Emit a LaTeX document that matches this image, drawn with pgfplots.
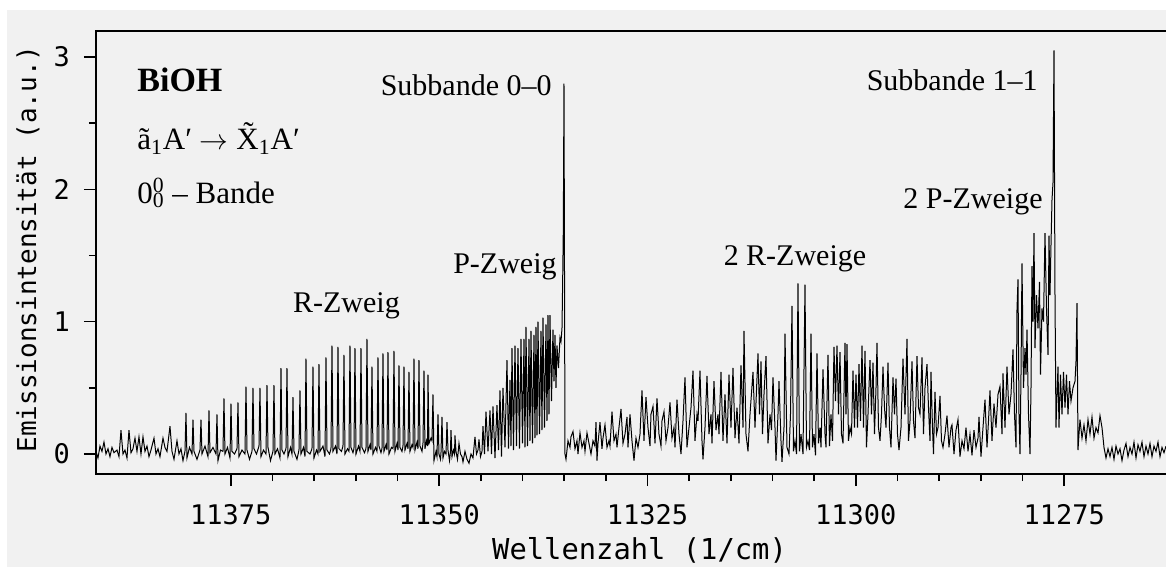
\documentclass[border=0pt]{standalone}
\usepackage{fontspec}
\setmainfont{Liberation Serif}
\newfontfamily\monofont{DejaVu Sans Mono}
\usepackage{pgfplots}
\pgfplotsset{compat=1.18}
\usepackage{pgfplotstable}
\definecolor{bg}{HTML}{F1F1F1}

% emission spectrum (wavenumber in 1/cm, intensity in a.u.)
\pgfplotstableread{
x y
11391.18 0.02
11390.94 -0.03
11390.70 0.06
11390.46 0.02
11390.22 0.09
11389.98 0.00
11389.74 0.04
11389.50 -0.02
11389.26 0.05
11389.02 0.01
11388.66 0.03
11388.42 -0.02
11388.18 0.18
11387.94 0.00
11387.70 0.03
11387.46 -0.03
11387.22 0.18
11386.98 0.01
11386.74 0.04
11386.50 0.12
11386.26 0.02
11386.02 0.13
11385.78 0.00
11385.54 0.13
11385.30 0.02
11385.06 0.06
11384.82 -0.02
11384.58 0.03
11384.22 0.12
11383.98 0.00
11383.74 0.04
11383.50 -0.02
11383.14 0.12
11382.90 0.05
11382.66 0.02
11382.30 0.21
11382.06 0.02
11381.82 -0.04
11381.46 0.10
11381.22 0.00
11380.98 0.04
11380.74 -0.05
11380.50 0.02
11380.38 0.31
11380.26 -0.03
11379.96 0.05
11379.66 0.00
11379.54 0.26
11379.42 0.02
11379.06 -0.04
11378.70 0.03
11378.58 0.26
11378.46 0.00
11378.10 0.06
11377.74 -0.02
11377.62 0.33
11377.50 0.01
11377.14 0.05
11376.78 0.00
11376.66 0.30
11376.54 -0.05
11376.24 0.03
11375.94 0.02
11375.82 0.42
11375.70 0.00
11375.40 0.05
11375.10 -0.03
11374.98 0.38
11374.86 0.02
11374.56 0.00
11374.26 0.04
11374.14 0.39
11374.02 -0.02
11373.66 0.03
11373.30 0.00
11373.18 0.51
11373.06 0.03
11372.76 -0.04
11372.46 0.02
11372.34 0.50
11372.22 0.04
11371.92 0.00
11371.62 0.06
11371.50 0.50
11371.38 -0.02
11371.08 0.03
11370.78 0.00
11370.66 0.52
11370.54 0.05
11370.24 -0.05
11369.94 0.02
11369.82 0.52
11369.70 0.00
11369.40 0.04
11369.10 -0.03
11368.98 0.65
11368.86 0.03
11368.62 0.00
11368.38 0.04
11368.26 0.65
11368.14 -0.02
11367.84 0.05
11367.66 0.00
11367.54 0.43
11367.42 0.02
11367.06 -0.04
11366.82 0.03
11366.70 0.48
11366.58 0.00
11366.28 0.05
11366.10 -0.02
11365.98 0.72
11365.86 0.02
11365.50 0.00
11365.26 0.04
11365.14 0.66
11365.02 -0.03
11364.72 0.03
11364.54 0.00
11364.42 0.68
11364.30 0.02
11363.94 0.06
11363.70 -0.02
11363.58 0.73
11363.46 0.03
11363.16 0.00
11362.98 0.04
11362.86 0.82
11362.74 0.02
11362.44 0.06
11362.26 0.00
11362.14 0.81
11362.02 0.04
11361.72 0.02
11361.54 0.06
11361.42 0.75
11361.30 0.00
11361.00 0.04
11360.82 0.02
11360.70 0.82
11360.58 0.05
11360.34 0.01
11360.22 0.04
11360.10 0.80
11359.98 0.00
11359.68 0.06
11359.50 0.02
11359.38 0.80
11359.26 0.05
11358.96 0.01
11358.78 0.04
11358.66 0.87
11358.54 0.02
11358.30 0.07
11358.18 0.03
11358.06 0.66
11357.94 0.00
11357.64 0.05
11357.46 0.02
11357.34 0.73
11357.22 0.06
11356.98 0.01
11356.86 0.04
11356.74 0.76
11356.62 0.02
11356.38 0.07
11356.26 0.03
11356.14 0.77
11356.02 0.00
11355.72 0.05
11355.54 0.04
11355.42 0.78
11355.30 0.02
11355.06 0.08
11354.94 0.03
11354.82 0.67
11354.70 0.05
11354.46 0.02
11354.34 0.06
11354.22 0.66
11354.10 0.03
11353.86 0.08
11353.74 0.04
11353.62 0.62
11353.50 0.02
11353.26 0.07
11353.14 0.05
11353.02 0.72
11352.90 0.03
11352.66 0.09
11352.54 0.04
11352.42 0.71
11352.30 0.06
11352.06 0.02
11351.94 0.08
11351.82 0.63
11351.70 0.04
11351.52 0.10
11351.40 0.06
11351.34 0.60
11351.22 0.08
11350.98 0.12
11350.86 0.10
11350.74 0.45
11350.62 -0.05
11350.38 0.02
11350.26 -0.02
11350.14 0.30
11350.02 0.00
11349.84 -0.04
11349.78 0.01
11349.66 0.28
11349.54 -0.03
11349.36 0.02
11349.18 0.00
11349.06 0.24
11348.94 0.03
11348.76 -0.05
11348.64 0.02
11348.58 0.18
11348.46 -0.02
11348.28 0.03
11348.16 0.00
11348.10 0.14
11347.98 0.02
11347.80 -0.04
11347.62 0.08
11347.44 0.00
11347.26 -0.02
11347.14 -0.06
11346.90 0.02
11346.66 -0.04
11346.42 -0.07
11346.18 0.00
11345.94 -0.03
11345.70 0.13
11345.52 0.00
11345.34 0.03
11345.22 0.11
11345.04 -0.02
11344.86 0.02
11344.74 0.21
11344.56 0.00
11344.38 0.32
11344.14 0.02
11343.90 0.33
11343.72 0.00
11343.54 0.36
11343.30 -0.03
11343.06 0.37
11342.88 0.03
11342.70 0.48
11342.52 -0.02
11342.34 0.50
11342.10 0.05
11341.86 0.71
11341.68 0.04
11341.50 0.56
11341.38 0.06
11341.26 0.80
11341.08 0.03
11340.90 0.82
11340.72 0.06
11340.54 0.80
11340.36 0.04
11340.18 0.87
11340.00 0.08
11339.82 0.87
11339.70 0.05
11339.58 0.96
11339.40 0.06
11339.22 0.87
11339.10 0.10
11338.98 0.93
11338.80 0.08
11338.62 0.90
11338.50 0.12
11338.38 0.96
11338.26 0.14
11338.14 1.00
11337.96 0.15
11337.78 0.93
11337.66 0.18
11337.54 1.03
11337.36 0.20
11337.18 0.98
11337.06 0.25
11336.94 1.05
11336.82 0.30
11336.70 1.05
11336.52 0.40
11336.34 0.94
11336.22 0.55
11336.10 0.90
11335.98 0.50
11335.86 0.82
11335.68 0.65
11335.50 0.88
11335.38 0.85
11335.26 0.95
11335.18 1.30
11335.10 1.70
11335.02 2.80
11334.90 0.00
11334.78 -0.04
11334.54 0.10
11334.30 0.05
11334.18 0.13
11333.94 0.17
11333.70 0.04
11333.46 0.10
11333.34 0.00
11333.10 0.16
11332.86 0.05
11332.62 0.10
11332.50 0.02
11332.26 0.16
11332.02 0.08
11331.78 0.00
11331.54 0.10
11331.30 0.06
11331.18 0.24
11331.06 -0.05
11330.94 0.08
11330.70 0.24
11330.46 0.04
11330.34 0.12
11330.10 0.22
11329.86 0.05
11329.62 0.10
11329.50 0.06
11329.26 0.32
11329.02 0.10
11328.78 0.15
11328.66 0.05
11328.42 0.20
11328.18 0.34
11327.94 0.08
11327.70 0.15
11327.46 0.28
11327.34 0.05
11327.10 0.30
11326.86 0.10
11326.62 -0.05
11326.38 0.12
11326.14 0.05
11325.90 0.15
11325.66 0.48
11325.42 0.10
11325.18 0.43
11324.94 0.20
11324.70 0.06
11324.58 0.30
11324.34 0.36
11324.10 0.08
11323.86 0.42
11323.62 0.15
11323.38 0.06
11323.26 0.25
11323.02 0.32
11322.78 0.10
11322.54 0.20
11322.30 0.39
11322.06 0.12
11321.82 0.20
11321.70 0.05
11321.46 0.41
11321.22 0.15
11320.98 0.00
11320.74 0.25
11320.50 0.58
11320.26 0.05
11320.02 0.20
11319.78 0.35
11319.54 0.63
11319.30 0.10
11319.06 0.30
11318.94 0.25
11318.70 0.63
11318.46 0.10
11318.34 -0.04
11318.10 0.20
11317.86 0.59
11317.62 0.15
11317.38 0.30
11317.26 0.08
11317.02 0.55
11316.78 0.18
11316.54 0.30
11316.42 0.15
11316.18 0.62
11315.94 0.10
11315.70 0.45
11315.46 0.08
11315.22 0.60
11314.98 0.20
11314.74 0.65
11314.50 0.12
11314.26 0.35
11314.02 0.08
11313.78 0.67
11313.54 0.20
11313.42 0.93
11313.18 0.15
11312.94 0.02
11312.70 0.30
11312.34 0.62
11312.10 0.20
11311.74 0.76
11311.56 0.30
11311.38 0.70
11311.20 0.15
11311.02 0.45
11310.78 0.74
11310.54 0.08
11310.30 0.30
11310.12 0.18
11309.94 0.58
11309.70 0.20
11309.58 -0.05
11309.34 0.30
11309.22 0.55
11308.98 0.10
11308.86 -0.06
11308.62 0.20
11308.50 0.91
11308.26 0.05
11308.02 0.00
11307.84 0.30
11307.66 1.12
11307.48 0.02
11307.30 0.10
11307.12 0.00
11306.94 1.29
11306.76 0.02
11306.58 0.15
11306.34 0.00
11306.10 1.28
11305.92 0.05
11305.74 0.10
11305.56 0.03
11305.38 0.91
11305.20 0.05
11305.02 0.15
11304.84 -0.01
11304.66 0.76
11304.48 0.08
11304.30 0.20
11304.18 0.05
11303.94 0.64
11303.70 0.15
11303.58 0.05
11303.34 0.75
11303.16 0.06
11302.98 0.30
11302.80 0.10
11302.62 0.81
11302.44 0.40
11302.26 0.82
11302.08 0.30
11301.90 0.77
11301.72 0.15
11301.54 0.08
11301.30 0.84
11301.18 0.30
11301.06 0.83
11300.88 0.10
11300.70 0.20
11300.52 0.15
11300.34 0.63
11300.16 0.20
11299.98 0.60
11299.80 0.20
11299.62 0.68
11299.44 0.25
11299.26 0.82
11299.08 0.20
11298.90 0.78
11298.72 0.05
11298.54 0.30
11298.30 0.71
11298.12 0.30
11297.94 0.69
11297.76 0.15
11297.58 0.50
11297.46 0.84
11297.28 0.20
11297.10 0.10
11296.92 0.30
11296.74 0.66
11296.56 0.35
11296.38 0.20
11296.14 0.69
11295.96 0.20
11295.78 0.05
11295.54 0.58
11295.36 0.30
11295.18 0.57
11295.00 0.15
11294.82 0.03
11294.58 0.20
11294.34 0.72
11294.10 0.30
11293.86 0.87
11293.68 0.10
11293.50 0.25
11293.26 0.70
11293.08 0.25
11292.90 0.12
11292.66 0.74
11292.48 0.35
11292.30 0.30
11292.06 0.73
11291.88 0.15
11291.70 0.50
11291.46 0.68
11291.28 0.35
11291.10 0.10
11290.98 0.62
11290.80 0.20
11290.68 0.00
11290.50 0.47
11290.32 0.15
11290.14 0.20
11289.90 0.44
11289.72 0.10
11289.54 0.05
11289.30 0.15
11289.06 0.29
11288.82 0.05
11288.58 0.20
11288.46 0.22
11288.22 0.00
11287.98 0.18
11287.74 0.26
11287.50 -0.02
11287.26 0.10
11287.02 0.04
11286.78 0.20
11286.54 0.02
11286.30 0.15
11286.06 -0.01
11285.82 0.18
11285.58 0.05
11285.34 0.12
11285.22 0.28
11284.98 -0.02
11284.74 0.20
11284.50 0.41
11284.26 0.05
11284.08 0.25
11283.90 0.48
11283.66 0.10
11283.42 0.38
11283.18 0.20
11282.94 0.45
11282.70 0.51
11282.46 0.15
11282.34 0.61
11282.10 0.20
11281.86 0.66
11281.62 0.30
11281.38 0.45
11281.14 0.79
11280.96 0.30
11280.78 0.05
11280.66 1.09
11280.54 1.32
11280.42 0.30
11280.30 0.00
11280.18 0.60
11280.06 1.44
11279.88 0.50
11279.70 0.80
11279.58 0.60
11279.46 0.94
11279.28 0.30
11279.10 0.00
11278.98 0.50
11278.86 1.42
11278.74 1.00
11278.62 1.67
11278.50 0.80
11278.32 1.20
11278.14 0.95
11277.96 1.30
11277.84 0.60
11277.66 1.10
11277.48 1.00
11277.30 1.67
11277.12 1.10
11276.94 0.75
11276.82 1.65
11276.70 1.20
11276.58 1.58
11276.46 1.92
11276.34 2.05
11276.22 3.05
11276.10 1.20
11275.98 0.20
11275.86 0.45
11275.74 0.66
11275.62 0.20
11275.44 0.60
11275.26 0.30
11275.08 0.62
11274.90 0.35
11274.72 0.60
11274.54 0.30
11274.36 0.55
11274.18 0.40
11273.94 0.50
11273.70 0.55
11273.58 0.70
11273.46 1.14
11273.34 0.03
11273.22 0.15
11273.10 0.26
11272.86 0.12
11272.62 0.22
11272.38 0.10
11272.14 0.26
11271.90 0.15
11271.66 0.28
11271.42 0.12
11271.18 0.20
11270.94 0.16
11270.70 0.29
11270.46 0.20
11270.22 0.05
11269.98 -0.03
11269.74 0.04
11269.50 -0.02
11269.26 0.05
11269.02 -0.04
11268.78 0.06
11268.54 0.00
11268.30 0.04
11268.06 -0.05
11267.82 0.03
11267.58 0.08
11267.34 -0.02
11267.10 0.05
11266.86 0.00
11266.62 0.09
11266.38 -0.03
11266.14 0.07
11265.90 0.02
11265.66 0.09
11265.42 -0.02
11265.18 0.06
11264.94 0.00
11264.70 0.08
11264.46 -0.02
11264.22 0.06
11263.98 0.02
11263.74 0.09
11263.50 -0.02
11263.26 0.05
11263.02 0.01
11262.78 0.06
}\spectrum

\begin{document}
\begin{tikzpicture}
\fill[white] (-48pt,-46.5pt) rectangle (535pt,237pt);
\fill[bg] (-44.5pt,-46.5pt) rectangle (535pt,232pt);
\begin{axis}[
    at={(0,0)}, anchor=south west,
    scale only axis, width=535pt, height=221.5pt,
    x dir=reverse,
    xmin=11262.78, xmax=11391.18,
    ymin=-0.151, ymax=3.197,
    xtick={11275,11300,11325,11350,11375},
    ytick={0,1,2,3},
    minor x tick num=4,
    minor y tick num=1,
    xtick pos=left, ytick pos=left,
    tick align=outside,
    major tick length=6pt, minor tick length=3.5pt,
    tick style={black, line width=0.8pt},
    axis line style={draw=none},
    clip=false,
    scaled ticks=false,
    tick label style={font=\monofont\fontsize{13.5}{16}\selectfont},
    /pgf/number format/assume math mode=true,
    /pgf/number format/1000 sep={},
    xticklabel style={yshift=-5.5pt, /pgf/number format/fixed, /pgf/number format/precision=0},
    yticklabel style={xshift=-3.5pt},
    xlabel={Wellenzahl (1/cm)},
    ylabel={Emissionsintensität (a.u.)},
    xlabel style={font=\monofont\fontsize{14.4}{17}\selectfont,
        at={(axis description cs:0.508,-0.1716)}, anchor=center},
    ylabel style={font=\monofont\fontsize{13}{16}\selectfont,
        at={(axis description cs:-0.0636,0.508)}, anchor=center},
]
\draw[line width=1pt, line join=miter]
    (rel axis cs:1,1) -- (rel axis cs:0,1) -- (rel axis cs:0,0) -- (rel axis cs:1,0);
\addplot[black, line width=0.5pt, mark=none] table[x=x, y=y] {\spectrum};

% annotations
\node[anchor=base west, inner sep=0pt, font=\bfseries\fontsize{17}{20}\selectfont]
    at (axis cs:11386.26,2.736) {BiOH};
\node[anchor=base west, inner sep=0pt, font=\fontsize{15.5}{18}\selectfont]
    at (axis cs:11386.26,2.298) {ã\textsubscript{1}A′ $\rightarrow$ \~{X}\textsubscript{1}A′};
\node[anchor=base west, inner sep=0pt, font=\fontsize{15.5}{18}\selectfont]
    at (axis cs:11386.26,1.897) {0\rlap{\textsuperscript{0}}\textsubscript{0} -- Bande};
\node[anchor=base east, inner sep=0pt, font=\fontsize{15}{18}\selectfont]
    at (axis cs:11336.46,2.713) {Subbande 0--0};
\node[anchor=base east, inner sep=0pt, font=\fontsize{15}{18}\selectfont]
    at (axis cs:11335.86,1.361) {P-Zweig};
\node[anchor=base, inner sep=0pt, font=\fontsize{15}{18}\selectfont]
    at (axis cs:11361.12,1.066) {R-Zweig};
\node[anchor=base, inner sep=0pt, font=\fontsize{15}{18}\selectfont]
    at (axis cs:11307.30,1.421) {2 R-Zweige};
\node[anchor=base east, inner sep=0pt, font=\fontsize{15}{18}\selectfont]
    at (axis cs:11278.14,2.744) {Subbande 1--1};
\node[anchor=base east, inner sep=0pt, font=\fontsize{15}{18}\selectfont]
    at (axis cs:11277.54,1.859) {2 P-Zweige};
\end{axis}
\pgfresetboundingbox
\path[use as bounding box] (-48pt,-46.5pt) rectangle (535pt,237pt);
\end{tikzpicture}
\end{document}
